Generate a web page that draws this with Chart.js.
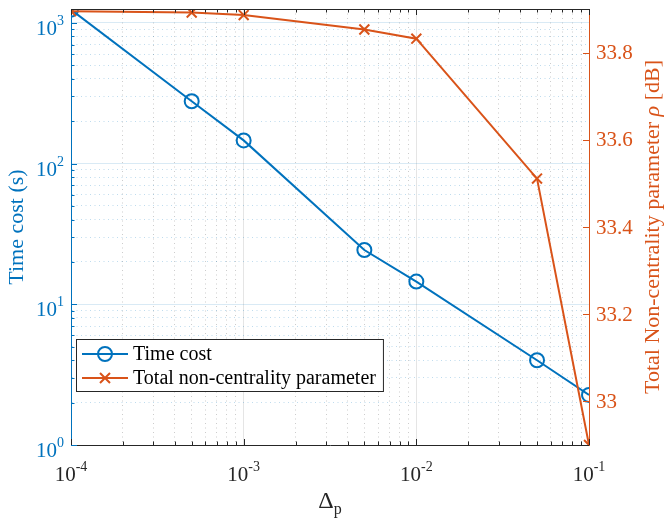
<!DOCTYPE html>
<html>
<head>
<meta charset="utf-8">
<script src="https://cdn.jsdelivr.net/npm/chart.js@4.4.1/dist/chart.umd.min.js"></script>
<style>
  html, body { margin: 0; padding: 0; background: #fff; }
  #wrap { width: 665px; height: 529px; }
</style>
</head>
<body>
<div id="wrap"><canvas id="chart"></canvas></div>
<script>
// Datos
const deltaP = [1e-4, 5e-4, 1e-3, 5e-3, 1e-2, 5e-2, 1e-1];
const timeCost = [1240, 277, 146, 24.3, 14.5, 4.0, 2.27];
const rhoDb = [33.895, 33.892, 33.886, 33.853, 33.832, 33.511, 32.9];
const seriesNames = ['Time cost', 'Total non-centrality parameter'];
const xExps = [-4, -3, -2, -1];
const yExps = [0, 1, 2, 3];
const rightTicks = [33, 33.2, 33.4, 33.6, 33.8];

const BLUE = '#0072BD';
const ORANGE = '#D95319';
const DARK = '#262626';
const SERIF = '"Liberation Serif", "Times New Roman", serif';

function logTicks(lo, hi) {
  const t = [];
  for (let e = lo; e < hi; e++) {
    for (let k = 1; k <= 9; k++) t.push({ value: k * Math.pow(10, e) });
  }
  t.push({ value: Math.pow(10, hi) });
  return t;
}
const isMajor = v => Math.abs(Math.log10(v) - Math.round(Math.log10(v))) < 1e-9;

// 10^n con superíndice
function drawPow(ctx, x, y, exp, align, color) {
  ctx.fillStyle = color;
  ctx.textBaseline = 'alphabetic';
  ctx.textAlign = 'left';
  ctx.font = '21px ' + SERIF;
  const wb = ctx.measureText('10').width;
  ctx.font = '14px ' + SERIF;
  const es = String(exp);
  const we = ctx.measureText(es).width;
  const w = wb + we;
  let x0 = x;
  if (align === 'right') x0 = x - w;
  else if (align === 'center') x0 = x - w / 2;
  ctx.font = '21px ' + SERIF;
  ctx.fillText('10', x0, y);
  ctx.font = '14px ' + SERIF;
  ctx.fillText(es, x0 + wb, y - 10);
}

const decor = {
  id: 'decor',
  afterDraw(chart) {
    const { ctx, chartArea: a, scales } = chart;
    const sx = scales.x, sy = scales.y, sr = scales.y1;
    ctx.save();

    // marco superior
    ctx.strokeStyle = DARK;
    ctx.lineWidth = 1;
    ctx.beginPath();
    ctx.moveTo(a.left, a.top + 0.5);
    ctx.lineTo(a.right, a.top + 0.5);
    ctx.stroke();

    // marcas hacia dentro
    sx.ticks.forEach(t => {
      const px = Math.round(sx.getPixelForValue(t.value)) + 0.5;
      const len = isMajor(t.value) ? 6 : 3.5;
      ctx.beginPath();
      ctx.moveTo(px, a.bottom); ctx.lineTo(px, a.bottom - len);
      ctx.moveTo(px, a.top); ctx.lineTo(px, a.top + len);
      ctx.stroke();
    });
    ctx.strokeStyle = BLUE;
    sy.ticks.forEach(t => {
      const py = Math.round(sy.getPixelForValue(t.value)) + 0.5;
      const len = isMajor(t.value) ? 6 : 3.5;
      ctx.beginPath();
      ctx.moveTo(a.left, py); ctx.lineTo(a.left + len, py);
      ctx.stroke();
    });
    ctx.strokeStyle = ORANGE;
    rightTicks.forEach(v => {
      const py = Math.round(sr.getPixelForValue(v)) + 0.5;
      ctx.beginPath();
      ctx.moveTo(a.right, py); ctx.lineTo(a.right - 6, py);
      ctx.stroke();
    });

    // etiquetas de los ejes
    xExps.forEach(e => drawPow(ctx, sx.getPixelForValue(Math.pow(10, e)), 481, e, 'center', DARK));
    yExps.forEach(e => drawPow(ctx, 64, sy.getPixelForValue(Math.pow(10, e)) + 12, e, 'right', BLUE));
    ctx.font = '21px ' + SERIF;
    ctx.fillStyle = ORANGE;
    ctx.textAlign = 'left';
    ctx.textBaseline = 'middle';
    rightTicks.forEach(v => ctx.fillText(String(v), 596, sr.getPixelForValue(v) + 1));

    // título eje x: Δ_p
    const cx = (a.left + a.right) / 2;
    ctx.fillStyle = DARK;
    ctx.textBaseline = 'alphabetic';
    ctx.font = '24px ' + SERIF;
    const wd = ctx.measureText('Δ').width;
    ctx.fillText('Δ', cx - wd / 2 - 4, 508);
    ctx.font = '16px ' + SERIF;
    ctx.fillText('p', cx + wd / 2 - 4, 514);

    // título eje izquierdo
    ctx.save();
    ctx.translate(17, (a.top + a.bottom) / 2);
    ctx.rotate(-Math.PI / 2);
    ctx.font = '22px ' + SERIF;
    ctx.fillStyle = BLUE;
    ctx.textAlign = 'center';
    ctx.textBaseline = 'middle';
    ctx.fillText('Time cost (s)', 0, 0);
    ctx.restore();

    // título eje derecho con ρ en cursiva
    ctx.save();
    ctx.translate(653, (a.top + a.bottom) / 2);
    ctx.rotate(-Math.PI / 2);
    ctx.fillStyle = ORANGE;
    ctx.textBaseline = 'middle';
    ctx.textAlign = 'left';
    const parts = [
      ['Total Non-centrality parameter ', '22px ' + SERIF],
      ['ρ', 'italic 22px ' + SERIF],
      [' [dB]', '22px ' + SERIF]
    ];
    let tw = 0;
    parts.forEach(p => { ctx.font = p[1]; tw += ctx.measureText(p[0]).width; });
    let px = -tw / 2;
    parts.forEach(p => { ctx.font = p[1]; ctx.fillText(p[0], px, 0); px += ctx.measureText(p[0]).width; });
    ctx.restore();

    // leyenda
    ctx.font = '20px ' + SERIF;
    const textW = Math.max(...seriesNames.map(s => ctx.measureText(s).width));
    const lx = 76, ly = 339, lh = 52;
    const lw = 57 + textW + 7;
    ctx.fillStyle = '#fff';
    ctx.fillRect(lx, ly, lw, lh);
    ctx.strokeStyle = DARK;
    ctx.lineWidth = 1;
    ctx.strokeRect(lx + 0.5, ly + 0.5, lw, lh);
    const rows = [ly + 15, ly + 39];
    chart.data.datasets.forEach((ds, i) => {
      const yy = rows[i];
      ctx.strokeStyle = ds.borderColor;
      ctx.lineWidth = 2;
      ctx.beginPath();
      ctx.moveTo(lx + 6, yy); ctx.lineTo(lx + 52, yy);
      ctx.stroke();
      const mx = lx + 29;
      if (ds.pointStyle === 'circle') {
        ctx.beginPath();
        ctx.arc(mx, yy, 7, 0, Math.PI * 2);
        ctx.stroke();
      } else {
        ctx.beginPath();
        ctx.moveTo(mx - 5, yy - 5); ctx.lineTo(mx + 5, yy + 5);
        ctx.moveTo(mx + 5, yy - 5); ctx.lineTo(mx - 5, yy + 5);
        ctx.stroke();
      }
      ctx.fillStyle = '#000';
      ctx.textAlign = 'left';
      ctx.textBaseline = 'middle';
      ctx.font = '20px ' + SERIF;
      ctx.fillText(ds.label, lx + 57, yy + 1);
    });
    ctx.restore();
  }
};

new Chart(document.getElementById('chart'), {
  type: 'line',
  data: {
    datasets: [
      {
        label: seriesNames[0],
        data: deltaP.map((x, i) => ({ x, y: timeCost[i] })),
        yAxisID: 'y',
        order: 1,
        borderColor: BLUE,
        borderWidth: 2,
        pointStyle: 'circle',
        pointRadius: 7,
        pointBorderWidth: 2,
        pointBackgroundColor: 'rgba(0,0,0,0)',
        pointBorderColor: BLUE,
        tension: 0
      },
      {
        label: seriesNames[1],
        data: deltaP.map((x, i) => ({ x, y: rhoDb[i] })),
        yAxisID: 'y1',
        order: 0,
        borderColor: ORANGE,
        borderWidth: 2,
        pointStyle: 'crossRot',
        pointRadius: 7,
        pointBorderWidth: 2,
        pointBorderColor: ORANGE,
        tension: 0
      }
    ]
  },
  options: {
    responsive: true,
    maintainAspectRatio: false,
    animation: false,
    layout: { padding: { top: 3, left: 0, right: 0, bottom: 0 } },
    plugins: { legend: { display: false }, tooltip: { enabled: false } },
    scales: {
      x: {
        type: 'logarithmic',
        min: 1e-4,
        max: 1e-1,
        afterBuildTicks: s => { s.ticks = logTicks(-4, -1); },
        afterFit: s => { s.height = 84; },
        ticks: { display: false },
        grid: {
          drawTicks: false,
          color: c => c.tick && isMajor(c.tick.value) ? 'rgba(0,0,0,0.1)' : 'rgba(0,0,0,0.2)',
          lineWidth: 1
        },
        border: {
          color: DARK,
          width: 1,
          dash: c => (c.tick && !isMajor(c.tick.value)) ? [1, 3.5] : []
        }
      },
      y: {
        type: 'logarithmic',
        position: 'left',
        min: 1,
        max: 1253,
        afterBuildTicks: s => { s.ticks = logTicks(0, 3); },
        afterFit: s => { s.width = 71; },
        ticks: { display: false },
        grid: {
          drawTicks: false,
          color: c => c.tick && isMajor(c.tick.value) ? 'rgba(0,114,189,0.15)' : 'rgba(0,114,189,0.25)',
          lineWidth: 1
        },
        border: {
          color: BLUE,
          width: 1,
          dash: c => (c.tick && !isMajor(c.tick.value)) ? [1, 3.5] : []
        }
      },
      y1: {
        type: 'linear',
        position: 'right',
        min: 32.9,
        max: 33.9,
        afterBuildTicks: s => { s.ticks = rightTicks.map(v => ({ value: v })); },
        afterFit: s => { s.width = 76; },
        ticks: { display: false },
        grid: { display: false, drawTicks: false },
        border: { color: ORANGE, width: 1 }
      }
    }
  },
  plugins: [decor]
});
</script>
</body>
</html>
